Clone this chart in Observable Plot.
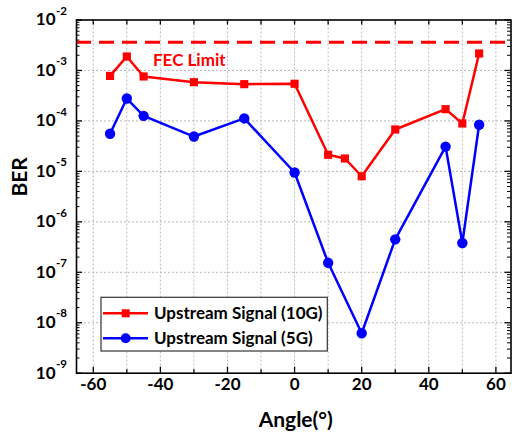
<!DOCTYPE html>
<html><head><meta charset="utf-8">
<script src="https://cdn.jsdelivr.net/npm/d3@7"></script>
<script src="https://cdn.jsdelivr.net/npm/@observablehq/plot@0.6"></script>
<style>body{margin:0;background:#fff}</style>
</head><body><div id="chart"></div>
<script>
// ---- data ----
const angles10G = [-55, -50, -45, -30, -15, 0, 10, 15, 20, 30, 45, 50, 55];
const ber10G = [7.8e-4, 1.89e-3, 7.6e-4, 5.85e-4, 5.35e-4, 5.45e-4, 2.13e-5, 1.8e-5, 8.0e-6, 6.76e-5, 1.71e-4, 8.9e-5, 2.17e-3];
const angles5G = [-55, -50, -45, -30, -15, 0, 10, 20, 30, 45, 50, 55];
const ber5G = [5.56e-5, 2.78e-4, 1.26e-4, 4.9e-5, 1.12e-4, 9.5e-6, 1.54e-7, 6.2e-9, 4.5e-7, 3.1e-5, 3.8e-7, 8.4e-5];
const seriesNames = ["Upstream Signal (10G)", "Upstream Signal (5G)"];
const fecLimit = 3.63e-3;
const fecLabel = "FEC Limit";
const xTickLabels = [-60, -40, -20, 0, 20, 40, 60];
const yExponents = [-9, -8, -7, -6, -5, -4, -3, -2];
const xTitle = "Angle(°)";
const yTitle = "BER";

// ---- layout ----
const W = 513, H = 440, mL = 76, mR = 2.5, mT = 19.5, mB = 67.3;
const innerW = W - mL - mR, innerH = H - mT - mB;
const FONT = "Lato, 'Open Sans', sans-serif";

const data10 = angles10G.map((a, i) => ({x: a, y: ber10G[i]}));
const data5 = angles5G.map((a, i) => ({x: a, y: ber5G[i]}));
const yDecades = yExponents.map(e => Math.pow(10, e));
const xAll = d3.range(-60, 61, 10);
const xMajor = xAll.filter(d => d % 20 === 0);
const xMinor = xAll.filter(d => d % 20 !== 0);
const yMinor = [];
for (let k = -9; k < -2; k++) for (let m = 2; m <= 9; m++) yMinor.push(m * Math.pow(10, k));

const gridStyle = {stroke: "#b8b8b8", strokeDasharray: "2,2", strokeWidth: 1};
const tickStyle = {stroke: "black", strokeWidth: 1.3};

const svg = Plot.plot({
  width: W, height: H,
  marginLeft: mL, marginRight: mR, marginTop: mT, marginBottom: mB,
  x: {domain: [-65, 64.5], axis: null},
  y: {type: "log", domain: [1e-9, 1e-2], axis: null},
  style: {fontFamily: FONT, fontWeight: "bold", fontSize: "17px", color: "black", background: "white"},
  marks: [
    Plot.ruleX(xAll, {...gridStyle}),
    Plot.ruleY(yDecades.slice(1, -1), {...gridStyle}),
    // ticks inward
    Plot.ruleX(xMajor, {...tickStyle, insetTop: innerH - 6}),
    Plot.ruleX(xMinor, {...tickStyle, insetTop: innerH - 3.5}),
    Plot.ruleX(xAll, {...tickStyle, insetBottom: innerH - 5}),
    Plot.ruleY(yDecades, {...tickStyle, insetRight: innerW - 6}),
    Plot.ruleY(yMinor, {...tickStyle, strokeWidth: 1, insetRight: innerW - 3.5}),
    Plot.ruleY(yDecades, {...tickStyle, insetLeft: innerW - 6}),
    Plot.ruleY(yMinor, {...tickStyle, strokeWidth: 1, insetLeft: innerW - 3.5}),
    // FEC limit
    Plot.ruleY([fecLimit], {stroke: "#ff0000", strokeWidth: 3, strokeDasharray: "15,8"}),
    Plot.text([fecLabel], {x: -42.2, y: 1.2e-3, text: d => d, textAnchor: "start", lineAnchor: "bottom", fill: "#ff0000", fontSize: 17, fontWeight: "bold"}),
    // series
    Plot.line(data10, {x: "x", y: "y", stroke: "#ff0000", strokeWidth: 2.5}),
    Plot.dot(data10, {x: "x", y: "y", symbol: "square", fill: "#ff0000", r: 4.6}),
    Plot.line(data5, {x: "x", y: "y", stroke: "#0000ff", strokeWidth: 2.5}),
    Plot.dot(data5, {x: "x", y: "y", symbol: "circle", fill: "#0000ff", r: 5.2}),
    Plot.frame({stroke: "black", strokeWidth: 1.6}),
    // tick labels
    Plot.text(xTickLabels, {x: d => d, frameAnchor: "bottom", dy: 17, text: d => String(d), fontSize: 17, fontWeight: "bold"}),
    Plot.text(yDecades, {y: d => d, frameAnchor: "left", dx: -21, text: () => "10", textAnchor: "end", fontSize: 17, fontWeight: "bold"}),
    Plot.text(yExponents, {y: d => Math.pow(10, d), frameAnchor: "left", dx: -20.5, dy: -9, text: d => String(d), textAnchor: "start", fontSize: 11.5, fontWeight: "bold"}),
    // axis titles
    Plot.text([yTitle], {frameAnchor: "left", dx: -56, rotate: -90, text: d => d, fontSize: 21, fontWeight: "bold"}),
    Plot.text([xTitle], {frameAnchor: "bottom", dx: 2, dy: 54, text: d => d, fontSize: 21, fontWeight: "bold"})
  ]
});

// legend (inside plot area)
const lg = d3.select(svg).append("g")
  .style("font-family", FONT).style("font-weight", "bold").style("font-size", "17px");
lg.append("rect").attr("x", 101).attr("y", 297.3).attr("width", 226.3).attr("height", 53.7)
  .attr("fill", "white").attr("stroke", "#333").attr("stroke-width", 1.2);
const rows = [{y: 313.3, color: "#ff0000", sym: "square"}, {y: 338.3, color: "#0000ff", sym: "circle"}];
rows.forEach((r, i) => {
  lg.append("line").attr("x1", 103).attr("x2", 148).attr("y1", r.y).attr("y2", r.y).attr("stroke", r.color).attr("stroke-width", 2.5);
  if (r.sym === "square") lg.append("rect").attr("x", 125.7 - 4).attr("y", r.y - 4).attr("width", 8).attr("height", 8).attr("fill", r.color);
  else lg.append("circle").attr("cx", 125.7).attr("cy", r.y).attr("r", 5).attr("fill", r.color);
  lg.append("text").attr("x", 154).attr("y", r.y).attr("dy", "0.36em")
    .style("text-anchor", "start").attr("fill", "black").text(seriesNames[i]);
});

document.getElementById("chart").appendChild(svg);
</script>
</body></html>
